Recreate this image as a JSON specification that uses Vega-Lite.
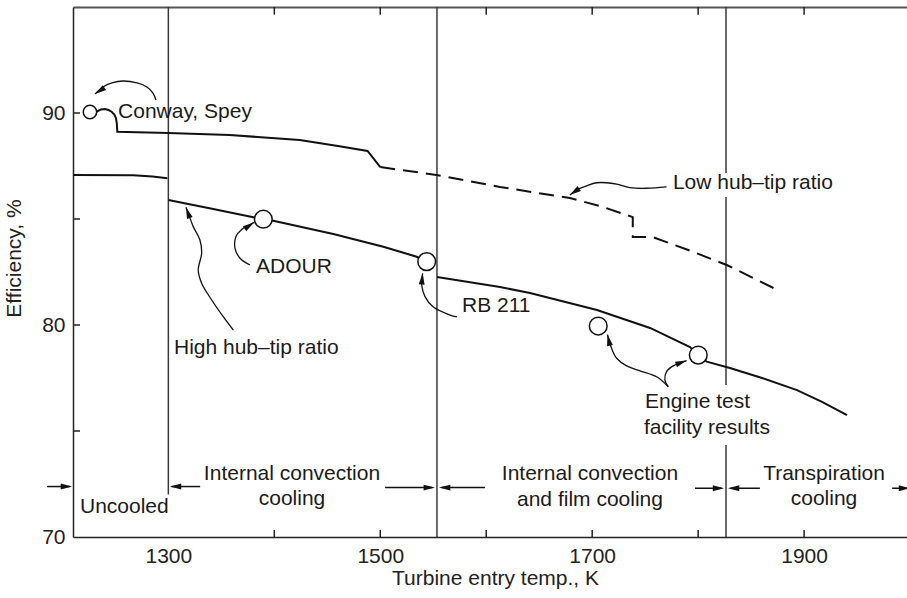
{
  "$schema": "https://vega.github.io/schema/vega-lite/v6.json",
  "width": 836,
  "height": 530,
  "autosize": {"type": "none"},
  "padding": {"left": 73, "top": 7, "right": 0, "bottom": 61},
  "background": "white",
  "config": {
    "view": {"stroke": null},
    "font": "Liberation Sans",
    "axis": {
      "domainColor": "#222", "tickColor": "#222", "domainWidth": 1.5, "tickWidth": 1.5,
      "labelFont": "Liberation Sans", "labelFontSize": 21, "labelColor": "#222",
      "titleFont": "Liberation Sans", "titleFontSize": 21, "titleFontWeight": "normal", "titleColor": "#222",
      "grid": false, "labelOverlap": false, "labelFlush": false
    }
  },
  "datasets": {
    "curves": [
      {"s": "upper", "i": 0, "T": 1226.0, "E": 90.05},
      {"s": "upper", "i": 1, "T": 1232.4, "E": 90.06},
      {"s": "upper", "i": 2, "T": 1236.4, "E": 90.17},
      {"s": "upper", "i": 3, "T": 1240.2, "E": 90.19},
      {"s": "upper", "i": 4, "T": 1243.5, "E": 90.14},
      {"s": "upper", "i": 5, "T": 1246.5, "E": 90.06},
      {"s": "upper", "i": 6, "T": 1249.0, "E": 89.93},
      {"s": "upper", "i": 7, "T": 1250.6, "E": 89.75},
      {"s": "upper", "i": 8, "T": 1251.4, "E": 89.48},
      {"s": "upper", "i": 9, "T": 1251.8, "E": 89.12},
      {"s": "upper", "i": 10, "T": 1300, "E": 89.06},
      {"s": "upper", "i": 11, "T": 1358, "E": 88.96},
      {"s": "upper", "i": 12, "T": 1424, "E": 88.73},
      {"s": "upper", "i": 13, "T": 1460, "E": 88.44},
      {"s": "upper", "i": 14, "T": 1488, "E": 88.21},
      {"s": "upper", "i": 15, "T": 1500, "E": 87.45},
      {"s": "unc", "i": 0, "T": 1210, "E": 87.08},
      {"s": "unc", "i": 1, "T": 1267, "E": 87.06},
      {"s": "unc", "i": 2, "T": 1285, "E": 87.0},
      {"s": "unc", "i": 3, "T": 1299, "E": 86.92},
      {"s": "hA", "i": 0, "T": 1300, "E": 85.9},
      {"s": "hA", "i": 1, "T": 1340, "E": 85.5},
      {"s": "hA", "i": 2, "T": 1380.2, "E": 85.08},
      {"s": "hA", "i": 3, "T": 1389.6, "E": 84.99},
      {"s": "hA", "i": 4, "T": 1399, "E": 84.92},
      {"s": "hA", "i": 5, "T": 1455.7, "E": 84.29},
      {"s": "hA", "i": 6, "T": 1502.9, "E": 83.69},
      {"s": "hA", "i": 7, "T": 1534.4, "E": 83.22},
      {"s": "hA", "i": 8, "T": 1543.8, "E": 82.99},
      {"s": "hB", "i": 0, "T": 1553.5, "E": 82.26},
      {"s": "hB", "i": 1, "T": 1613.0, "E": 81.79},
      {"s": "hB", "i": 2, "T": 1641.3, "E": 81.51},
      {"s": "hB", "i": 3, "T": 1704.5, "E": 80.71},
      {"s": "hB", "i": 4, "T": 1754.6, "E": 79.86},
      {"s": "hB", "i": 5, "T": 1792.3, "E": 78.96},
      {"s": "hB", "i": 6, "T": 1800.1, "E": 78.58},
      {"s": "hB", "i": 7, "T": 1808.1, "E": 78.27},
      {"s": "hB", "i": 8, "T": 1830.0, "E": 77.97},
      {"s": "hB", "i": 9, "T": 1860.3, "E": 77.5},
      {"s": "hB", "i": 10, "T": 1893.3, "E": 76.93},
      {"s": "hB", "i": 11, "T": 1916.9, "E": 76.37},
      {"s": "hB", "i": 12, "T": 1940.5, "E": 75.75},
      {"s": "low", "i": 0, "T": 1500, "E": 87.45},
      {"s": "low", "i": 1, "T": 1553, "E": 87.08},
      {"s": "low", "i": 2, "T": 1613, "E": 86.51},
      {"s": "low", "i": 3, "T": 1679, "E": 85.99},
      {"s": "low", "i": 4, "T": 1710, "E": 85.57},
      {"s": "low", "i": 5, "T": 1738.3, "E": 85.09},
      {"s": "low", "i": 6, "T": 1738.3, "E": 84.15},
      {"s": "low", "i": 7, "T": 1757, "E": 84.15},
      {"s": "low", "i": 8, "T": 1790, "E": 83.55},
      {"s": "low", "i": 9, "T": 1827, "E": 82.83},
      {"s": "low", "i": 10, "T": 1877, "E": 81.6}
    ],
    "verticals": [
      {"T": 1300, "E": 95, "E2": 72.0},
      {"T": 1553.5, "E": 95, "E2": 70},
      {"T": 1826.3, "E": 95, "E2": 87.17},
      {"T": 1826.3, "E": 86.04, "E2": 77.17},
      {"T": 1826.3, "E": 74.34, "E2": 70}
    ],
    "ticks": [
      {"T": 1400, "T2": 1400, "E": 70, "E2": 70.33},
      {"T": 1500, "T2": 1500, "E": 70, "E2": 70.33},
      {"T": 1600, "T2": 1600, "E": 70, "E2": 70.33},
      {"T": 1700, "T2": 1700, "E": 70, "E2": 70.33},
      {"T": 1800, "T2": 1800, "E": 70, "E2": 70.33},
      {"T": 1900, "T2": 1900, "E": 70, "E2": 70.33},
      {"T": 1400, "T2": 1400, "E": 95, "E2": 94.64},
      {"T": 1500, "T2": 1500, "E": 95, "E2": 94.64},
      {"T": 1600, "T2": 1600, "E": 95, "E2": 94.64},
      {"T": 1700, "T2": 1700, "E": 95, "E2": 94.64},
      {"T": 1800, "T2": 1800, "E": 95, "E2": 94.64},
      {"T": 1900, "T2": 1900, "E": 95, "E2": 94.64},
      {"T": 1210, "T2": 1216.6, "E": 75, "E2": 75},
      {"T": 1210, "T2": 1216.6, "E": 80, "E2": 80},
      {"T": 1210, "T2": 1216.6, "E": 85, "E2": 85},
      {"T": 1210, "T2": 1216.6, "E": 90, "E2": 90}
    ],
    "shafts": [
      {"T": 1185.5, "T2": 1207, "E": 72.38},
      {"T": 1303, "T2": 1330, "E": 72.38},
      {"T": 1504.5, "T2": 1549, "E": 72.33},
      {"T": 1558, "T2": 1598.8, "E": 72.33},
      {"T": 1797, "T2": 1822, "E": 72.3},
      {"T": 1830.5, "T2": 1858.3, "E": 72.3},
      {"T": 1983.1, "T2": 1998, "E": 72.3}
    ],
    "heads": [
      {"T": 1209.1, "E": 72.38, "ang": 90},
      {"T": 1301.5, "E": 72.38, "ang": 270},
      {"T": 1551.6, "E": 72.33, "ang": 90},
      {"T": 1555.4, "E": 72.33, "ang": 270},
      {"T": 1824.5, "E": 72.3, "ang": 90},
      {"T": 1828.1, "E": 72.3, "ang": 270},
      {"T": 2000, "E": 72.3, "ang": 90},
      {"T": 1230.8, "E": 90.9, "ang": 236},
      {"T": 1316.6, "E": 85.55, "ang": 340},
      {"T": 1380.8, "E": 84.84, "ang": 56},
      {"T": 1540.0, "E": 82.44, "ang": 5},
      {"T": 1679.0, "E": 86.13, "ang": 235},
      {"T": 1714.4, "E": 79.55, "ang": 347},
      {"T": 1789.1, "E": 78.32, "ang": 70}
    ],
    "pointers": [
      {"a": "conway", "i": 0, "T": 1288.3, "E": 90.61},
      {"a": "conway", "i": 1, "T": 1285.5, "E": 90.94},
      {"a": "conway", "i": 2, "T": 1279.8, "E": 91.23},
      {"a": "conway", "i": 3, "T": 1270.4, "E": 91.42},
      {"a": "conway", "i": 4, "T": 1257.2, "E": 91.51},
      {"a": "conway", "i": 5, "T": 1246.8, "E": 91.42},
      {"a": "conway", "i": 6, "T": 1238.3, "E": 91.23},
      {"a": "conway", "i": 7, "T": 1230.8, "E": 90.9},
      {"a": "high", "i": 0, "T": 1361.3, "E": 79.76},
      {"a": "high", "i": 1, "T": 1351.8, "E": 80.39},
      {"a": "high", "i": 2, "T": 1340.9, "E": 81.18},
      {"a": "high", "i": 3, "T": 1331.4, "E": 81.97},
      {"a": "high", "i": 4, "T": 1328.2, "E": 82.59},
      {"a": "high", "i": 5, "T": 1331.4, "E": 83.38},
      {"a": "high", "i": 6, "T": 1329.8, "E": 84.01},
      {"a": "high", "i": 7, "T": 1323.5, "E": 84.64},
      {"a": "high", "i": 8, "T": 1318.8, "E": 85.27},
      {"a": "high", "i": 9, "T": 1316.6, "E": 85.55},
      {"a": "adour", "i": 0, "T": 1377.0, "E": 82.83},
      {"a": "adour", "i": 1, "T": 1367.6, "E": 83.15},
      {"a": "adour", "i": 2, "T": 1362.9, "E": 83.62},
      {"a": "adour", "i": 3, "T": 1363.8, "E": 84.17},
      {"a": "adour", "i": 4, "T": 1369.2, "E": 84.51},
      {"a": "adour", "i": 5, "T": 1375.4, "E": 84.68},
      {"a": "adour", "i": 6, "T": 1380.8, "E": 84.84},
      {"a": "rb", "i": 0, "T": 1572.4, "E": 80.38},
      {"a": "rb", "i": 1, "T": 1565.8, "E": 80.47},
      {"a": "rb", "i": 2, "T": 1549.8, "E": 80.86},
      {"a": "rb", "i": 3, "T": 1542.2, "E": 81.34},
      {"a": "rb", "i": 4, "T": 1539.1, "E": 81.89},
      {"a": "rb", "i": 5, "T": 1540.0, "E": 82.44},
      {"a": "low", "i": 0, "T": 1770.2, "E": 86.52},
      {"a": "low", "i": 1, "T": 1751.4, "E": 86.45},
      {"a": "low", "i": 2, "T": 1735.6, "E": 86.48},
      {"a": "low", "i": 3, "T": 1723.1, "E": 86.64},
      {"a": "low", "i": 4, "T": 1713.6, "E": 86.71},
      {"a": "low", "i": 5, "T": 1704.2, "E": 86.71},
      {"a": "low", "i": 6, "T": 1694.8, "E": 86.57},
      {"a": "low", "i": 7, "T": 1685.3, "E": 86.37},
      {"a": "low", "i": 8, "T": 1679.0, "E": 86.13},
      {"a": "eng1", "i": 0, "T": 1771.8, "E": 77.09},
      {"a": "eng1", "i": 1, "T": 1760.8, "E": 77.56},
      {"a": "eng1", "i": 2, "T": 1745.1, "E": 77.84},
      {"a": "eng1", "i": 3, "T": 1732.5, "E": 78.07},
      {"a": "eng1", "i": 4, "T": 1723.1, "E": 78.43},
      {"a": "eng1", "i": 5, "T": 1718.3, "E": 78.9},
      {"a": "eng1", "i": 6, "T": 1714.4, "E": 79.55},
      {"a": "eng2", "i": 0, "T": 1771.8, "E": 77.09},
      {"a": "eng2", "i": 1, "T": 1768.6, "E": 77.41},
      {"a": "eng2", "i": 2, "T": 1770.2, "E": 77.8},
      {"a": "eng2", "i": 3, "T": 1776.5, "E": 78.07},
      {"a": "eng2", "i": 4, "T": 1789.1, "E": 78.32}
    ],
    "circles": [
      {"name": "Conway, Spey", "T": 1226.0, "E": 90.05},
      {"name": "ADOUR", "T": 1389.6, "E": 84.99},
      {"name": "RB 211", "T": 1543.8, "E": 82.99},
      {"name": "Engine test 1", "T": 1705.7, "E": 79.95},
      {"name": "Engine test 2", "T": 1800.1, "E": 78.58}
    ],
    "notes": [
      {"label": "Conway, Spey", "T": 1252.5, "E": 90.05},
      {"label": "ADOUR", "T": 1382.7, "E": 82.74},
      {"label": "High hub–tip ratio", "T": 1305.3, "E": 78.92},
      {"label": "RB 211", "T": 1577.1, "E": 80.9},
      {"label": "Engine test", "T": 1749.8, "E": 76.37},
      {"label": "facility results", "T": 1748.8, "E": 75.14},
      {"label": "Low hub–tip ratio", "T": 1776.2, "E": 86.7},
      {"label": "Uncooled", "T": 1216.6, "E": 71.42}
    ],
    "regions": [
      {"label": "Internal convection", "T": 1416.7, "E": 72.97},
      {"label": "cooling", "T": 1416.7, "E": 71.79},
      {"label": "Internal convection", "T": 1697.9, "E": 72.97},
      {"label": "and film cooling", "T": 1697.9, "E": 71.75},
      {"label": "Transpiration", "T": 1918.8, "E": 72.97},
      {"label": "cooling", "T": 1918.8, "E": 71.79}
    ]
  },
  "resolve": {"axis": {"x": "independent", "y": "independent"}},
  "layer": [
    {
      "data": {"name": "verticals"},
      "mark": {"type": "rule", "color": "#3a3a3a", "strokeWidth": 1.5},
      "encoding": {
        "x": {"field": "T", "type": "quantitative", "scale": {"domain": [1210, 1999], "nice": false, "zero": false},
          "axis": {"orient": "bottom", "values": [1300, 1500, 1700, 1900], "format": "d",
            "ticks": false, "labelPadding": 8,
            "title": "Turbine entry temp., K", "titleX": 422, "titleY": 41, "titleBaseline": "middle"}},
        "y": {"field": "E", "type": "quantitative", "scale": {"domain": [70, 95], "nice": false, "zero": false},
          "axis": {"orient": "left", "values": [70, 80, 90],
            "ticks": false, "labelPadding": 8,
            "title": "Efficiency, %", "titleX": -59, "titleY": 251, "titleBaseline": "middle"}},
        "y2": {"field": "E2"}
      }
    },
    {
      "data": {"name": "curves"},
      "transform": [{"filter": "datum.s != 'low'"}],
      "mark": {"type": "line", "color": "#111", "strokeWidth": 2},
      "encoding": {
        "x": {"field": "T", "type": "quantitative", "scale": {"domain": [1210, 1999], "nice": false, "zero": false},
          "axis": {"orient": "top", "values": [1300], "labels": false, "ticks": false,
            "title": null, "domainColor": "#555", "domainWidth": 2}},
        "y": {"field": "E", "type": "quantitative", "scale": {"domain": [70, 95], "nice": false, "zero": false}, "axis": null},
        "detail": {"field": "s"},
        "order": {"field": "i", "type": "quantitative"}
      }
    },
    {
      "data": {"name": "ticks"},
      "mark": {"type": "rule", "color": "#222", "strokeWidth": 1.5},
      "encoding": {
        "x": {"field": "T", "type": "quantitative", "axis": null},
        "x2": {"field": "T2"},
        "y": {"field": "E", "type": "quantitative", "axis": null},
        "y2": {"field": "E2"}
      }
    },
    {
      "data": {"name": "curves"},
      "transform": [{"filter": "datum.s == 'low'"}],
      "mark": {"type": "line", "color": "#111", "strokeWidth": 2, "strokeDash": [15, 8]},
      "encoding": {
        "x": {"field": "T", "type": "quantitative", "axis": null},
        "y": {"field": "E", "type": "quantitative", "axis": null},
        "order": {"field": "i", "type": "quantitative"}
      }
    },
    {
      "data": {"name": "shafts"},
      "mark": {"type": "rule", "color": "#111", "strokeWidth": 1.5},
      "encoding": {
        "x": {"field": "T", "type": "quantitative", "axis": null},
        "x2": {"field": "T2"},
        "y": {"field": "E", "type": "quantitative", "axis": null}
      }
    },
    {
      "data": {"name": "pointers"},
      "mark": {"type": "line", "color": "#111", "strokeWidth": 1.3, "interpolate": "catmull-rom"},
      "encoding": {
        "x": {"field": "T", "type": "quantitative", "axis": null},
        "y": {"field": "E", "type": "quantitative", "axis": null},
        "detail": {"field": "a"},
        "order": {"field": "i", "type": "quantitative"}
      }
    },
    {
      "data": {"name": "heads"},
      "mark": {"type": "point", "shape": "M0,0L0.42,1.6L-0.42,1.6Z", "filled": true, "color": "#111", "size": 200, "opacity": 1},
      "encoding": {
        "x": {"field": "T", "type": "quantitative", "axis": null},
        "y": {"field": "E", "type": "quantitative", "axis": null},
        "angle": {"field": "ang", "type": "quantitative", "scale": {"domain": [0, 360], "range": [0, 360]}}
      }
    },
    {
      "data": {"name": "circles"},
      "transform": [{"filter": "datum.name == 'Conway, Spey'"}],
      "mark": {"type": "point", "shape": "circle", "filled": false, "fill": "white", "fillOpacity": 1, "stroke": "#111", "strokeWidth": 1.5, "size": 180, "opacity": 1},
      "encoding": {
        "x": {"field": "T", "type": "quantitative", "axis": null},
        "y": {"field": "E", "type": "quantitative", "axis": null}
      }
    },
    {
      "data": {"name": "circles"},
      "transform": [{"filter": "datum.name != 'Conway, Spey'"}],
      "mark": {"type": "point", "shape": "circle", "filled": false, "fill": "white", "fillOpacity": 1, "stroke": "#111", "strokeWidth": 1.5, "size": 314, "opacity": 1},
      "encoding": {
        "x": {"field": "T", "type": "quantitative", "axis": null},
        "y": {"field": "E", "type": "quantitative", "axis": null}
      }
    },
    {
      "data": {"name": "notes"},
      "mark": {"type": "text", "align": "left", "baseline": "middle", "fontSize": 21, "font": "Liberation Sans", "color": "#1a1a1a"},
      "encoding": {
        "x": {"field": "T", "type": "quantitative", "axis": null},
        "y": {"field": "E", "type": "quantitative", "axis": null},
        "text": {"field": "label"}
      }
    },
    {
      "data": {"name": "regions"},
      "mark": {"type": "text", "align": "center", "baseline": "middle", "fontSize": 21, "font": "Liberation Sans", "color": "#1a1a1a"},
      "encoding": {
        "x": {"field": "T", "type": "quantitative", "axis": null},
        "y": {"field": "E", "type": "quantitative", "axis": null},
        "text": {"field": "label"}
      }
    }
  ]
}
